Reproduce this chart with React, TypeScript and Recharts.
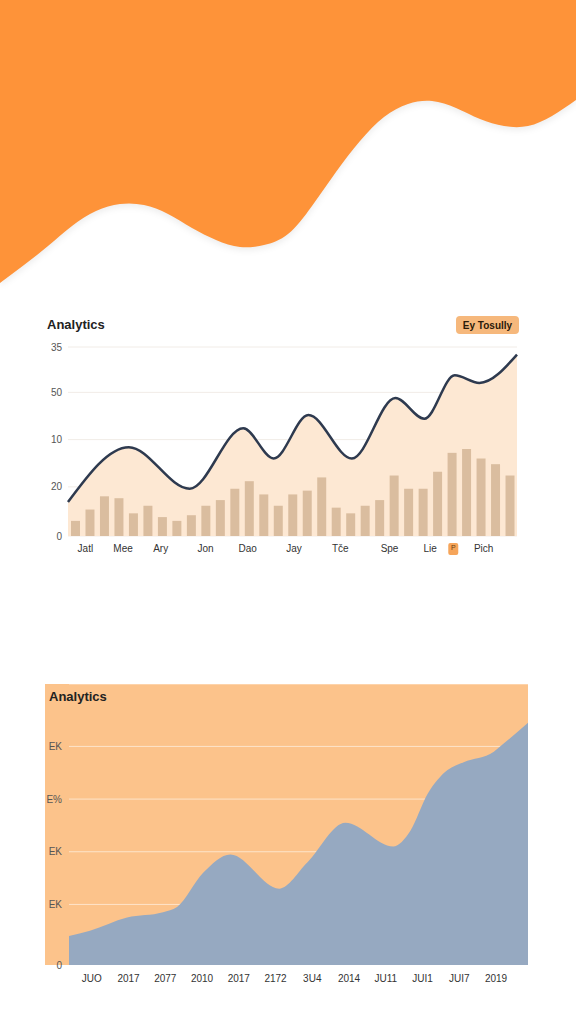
import React from 'react';
import { AreaChart, Area, BarChart, Bar, XAxis, YAxis, CartesianGrid } from 'recharts';

const FONT = '"Liberation Sans", Arial, sans-serif';

// decorative orange wave at the top: depth of the band, sampled left to right
const waveX = [0, 1, 2, 3, 4, 5, 6, 7, 8, 9, 10, 11, 12, 13, 14, 15, 16, 17, 18, 19, 20, 21, 22, 23, 24];
const waveDepth = [283, 265, 246, 226, 211, 204, 205, 214, 228, 240, 247, 245, 234, 206, 172, 141, 117, 104, 101, 108, 119, 126, 126, 116, 100];

// middle chart
const barValues = [8, 14, 21, 20, 12, 16, 10, 8, 11, 16, 19, 25, 29, 22, 16, 22, 24, 31, 15, 12, 16, 19, 32, 25, 25, 34, 44, 46, 41, 38, 32];
const lineX = [0, 4.2, 8.4, 12.1, 14.2, 16.6, 19.6, 22.6, 24.6, 26.7, 28.4, 31];
const lineValues = [18, 47, 25, 57, 41, 64, 41, 73, 62, 85, 81, 96];
const midTickValues = [0, 26, 51, 76, 100];
const midTickLabels = ['0', '20', '10', '50', '35'];
const monthPos = [1.2, 3.8, 6.4, 9.5, 12.4, 15.6, 18.8, 22.2, 25, 26.6, 28.7];
const monthLabels = ['Jatl', 'Mee', 'Ary', 'Jon', 'Dao', 'Jay', 'Tče', 'Spe', 'Lie', 'P', 'Pich'];

// bottom chart
const yearLabels = ['JUO', '2017', '2077', '2010', '2017', '2172', '3U4', '2014', 'JU11', 'JUI1', 'JUI7', '2019'];
const yearPos = [0, 1, 2, 3, 4, 5, 6, 7, 8, 9, 10, 11];
const areaX = [-0.62, -0.05, 0.96, 1.94, 2.32, 3.03, 3.77, 5.1, 5.87, 6.9, 8.2, 8.67, 9.14, 9.68, 10.12, 10.94, 11.2, 11.87];
const areaValues = [11, 13, 18, 20, 22, 35, 42, 29, 39, 54, 45, 51, 65, 74, 77, 81, 84, 92];
const lowTickValues = [0, 23, 43, 63, 83];
const lowTickLabels = ['0', 'EK', 'EK', 'E%', 'EK'];

const waveData = waveX.map((x, i) => ({ x, depth: waveDepth[i] }));
const barData = barValues.map((v, i) => ({ i, v }));
const lineData = lineX.map((x, i) => ({ x, v: lineValues[i] }));
const areaData = areaX.map((x, i) => ({ x, v: areaValues[i] }));

const MonthTick = (props: any) => {
  const { x, y, payload } = props;
  const label = monthLabels[monthPos.indexOf(payload.value)];
  if (label === 'P') {
    return (
      <g>
        <rect x={x - 5} y={y - 2} width={10} height={12} rx={2} fill="#f6a55a" />
        <text x={x} y={y} dy="0.71em" textAnchor="middle" fontSize={7} fill="#6b3d10" fontFamily={FONT}>
          {label}
        </text>
      </g>
    );
  }
  return (
    <text x={x} y={y} dy="0.71em" textAnchor="middle" fontSize={10} fill="#333" fontFamily={FONT}>
      {label}
    </text>
  );
};

export default function App() {
  return (
    <div style={{ position: 'relative', width: 576, height: 1024, background: '#fff', overflow: 'hidden', fontFamily: FONT }}>
      <style>{'body{margin:0}'}</style>

      {/* top wave */}
      <div style={{ position: 'absolute', left: 0, top: 0, filter: 'drop-shadow(0 3px 3px rgba(0,0,0,0.07))' }}>
        <AreaChart width={576} height={300} data={waveData} margin={{ top: 0, right: 0, bottom: 0, left: 0 }}>
          <XAxis dataKey="x" type="number" domain={[0, 24]} hide />
          <YAxis type="number" domain={[0, 300]} reversed hide />
          <Area
            type="natural"
            dataKey="depth"
            baseValue={0}
            stroke="none"
            fill="#fe9339"
            fillOpacity={1}
            dot={false}
            activeDot={false}
            isAnimationActive={false}
          />
        </AreaChart>
      </div>

      {/* middle chart */}
      <div style={{ position: 'absolute', left: 47, top: 317, fontSize: 13, fontWeight: 600, color: '#222', lineHeight: '16px' }}>
        Analytics
      </div>
      <div
        style={{
          position: 'absolute', left: 456, top: 316, width: 63, height: 18, borderRadius: 4,
          background: '#f6b87c', fontSize: 10, fontWeight: 700, color: '#2a1a0a',
          display: 'flex', alignItems: 'center', justifyContent: 'center',
        }}
      >
        Ey Tosully
      </div>
      <div style={{ position: 'absolute', left: 0, top: 340 }}>
        <AreaChart width={576} height={230} data={lineData} margin={{ top: 7, right: 59, bottom: 4, left: 20 }}>
          <CartesianGrid vertical={false} stroke="#f1ece7" />
          <XAxis
            dataKey="x"
            type="number"
            domain={[0, 31]}
            ticks={monthPos}
            tick={<MonthTick />}
            tickLine={false}
            axisLine={false}
            tickSize={4}
            tickMargin={5}
            height={30}
            interval={0}
          />
          <YAxis
            type="number"
            domain={[0, 100]}
            ticks={midTickValues}
            tickFormatter={(v: number) => midTickLabels[midTickValues.indexOf(v)]}
            tick={{ fontSize: 10, fill: '#555', fontFamily: FONT }}
            tickLine={false}
            axisLine={false}
            tickSize={4}
            width={48}
          />
          <Area
            type="monotone"
            dataKey="v"
            baseValue={0}
            stroke="#2e3a4f"
            strokeWidth={2.5}
            fill="#fde8d3"
            fillOpacity={1}
            dot={false}
            activeDot={false}
            isAnimationActive={false}
          />
        </AreaChart>
      </div>
      <div style={{ position: 'absolute', left: 0, top: 340 }}>
        <BarChart width={576} height={230} data={barData} margin={{ top: 7, right: 59, bottom: 34, left: 68 }}>
          <XAxis dataKey="i" hide />
          <YAxis type="number" domain={[0, 100]} hide />
          <Bar dataKey="v" fill="#dabd9f" barSize={9} isAnimationActive={false} />
        </BarChart>
      </div>

      {/* bottom chart */}
      <div style={{ position: 'absolute', left: 45, top: 684, width: 483, height: 281, background: '#fcc38b' }} />
      <div style={{ position: 'absolute', left: 0, top: 684 }}>
        <AreaChart width={576} height={320} data={areaData} margin={{ top: 0, right: 48, bottom: 9, left: 29 }}>
          <CartesianGrid vertical={false} stroke="#fff" strokeOpacity={0.55} />
          <XAxis
            dataKey="x"
            type="number"
            domain={[-0.62, 11.87]}
            ticks={yearPos}
            tickFormatter={(v: number) => yearLabels[v]}
            tick={{ fontSize: 10, fill: '#333', fontFamily: FONT }}
            tickLine={false}
            axisLine={false}
            tickSize={4}
            tickMargin={6}
            height={30}
            interval={0}
          />
          <YAxis
            type="number"
            domain={[0, 106.7]}
            ticks={lowTickValues}
            tickFormatter={(v: number) => lowTickLabels[lowTickValues.indexOf(v)]}
            tick={{ fontSize: 10, fill: '#555', fontFamily: FONT }}
            tickLine={false}
            axisLine={false}
            tickSize={5}
            width={40}
          />
          <Area
            type="monotone"
            dataKey="v"
            baseValue={0}
            stroke="none"
            fill="#96a9c1"
            fillOpacity={1}
            dot={false}
            activeDot={false}
            isAnimationActive={false}
          />
        </AreaChart>
      </div>
      <div style={{ position: 'absolute', left: 49, top: 689, fontSize: 13, fontWeight: 700, color: '#222', lineHeight: '16px' }}>
        Analytics
      </div>
    </div>
  );
}
